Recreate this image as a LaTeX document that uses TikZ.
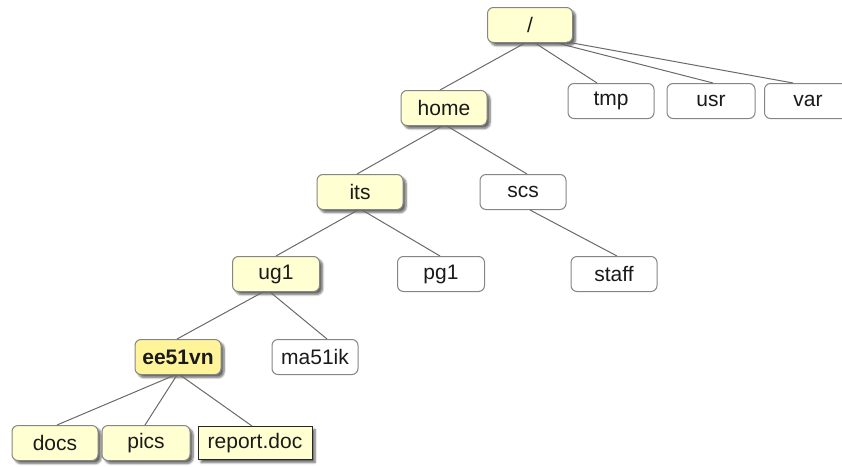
\documentclass[tikz,border=0pt]{standalone}
\usepackage{fontspec}
\setmainfont{Liberation Sans}
\usetikzlibrary{shadows.blur}
\definecolor{dirfill}{HTML}{FFFFD2}
\definecolor{curfill}{HTML}{FFF49A}
\definecolor{boxline}{HTML}{858585}
\definecolor{edgecol}{HTML}{6A6A6A}
\definecolor{txt}{HTML}{1A1A1A}
\tikzset{
  dirbox/.style={draw=boxline, line width=1pt, rounded corners=6pt,
    minimum width=86pt, minimum height=35pt, inner sep=0pt,
    font=\fontsize{21}{23}\selectfont, text=txt, fill=white},
  yel/.style={dirbox, fill=dirfill,
    blur shadow={shadow xshift=3pt, shadow yshift=-3pt, shadow blur steps=6, shadow opacity=60}},
  cur/.style={yel, fill=curfill, font=\fontsize{21}{23}\selectfont\bfseries},
  filebox/.style={dirbox, rounded corners=0pt, draw=black!85, fill=dirfill,
    blur shadow={shadow xshift=3pt, shadow yshift=-3pt, shadow blur steps=6, shadow opacity=60}},
  edge/.style={draw=edgecol, line width=1pt},
}
\begin{document}
\begin{tikzpicture}[x=1pt, y=-1pt]
\useasboundingbox (0,0) rectangle (842,466);
\clip (0,0) rectangle (842,466);
\node[yel, minimum width=85pt] (root) at (530,25) {/};
\node[dirbox] (tmp) at (611,101) {tmp};
\node[dirbox, minimum width=88pt] (usr) at (711,101) {usr};
\node[dirbox, minimum width=87pt] (var) at (808,101) {var};
\node[yel] (home) at (444,108) {home};
\node[yel] (its) at (360,192) {its};
\node[dirbox] (scs) at (523,192) {scs};
\node[yel, minimum width=87pt] (ug1) at (276,274) {ug1};
\node[dirbox, minimum width=87pt] (pg1) at (441,274) {pg1};
\node[dirbox] (staff) at (614,274) {staff};
\node[cur] (ee) at (178,357) {ee51vn};
\node[dirbox] (ma) at (315,357) {ma51ik};
\node[yel] (docs) at (55,443) {docs};
\node[yel, minimum width=88pt] (pics) at (146,443) {pics};
\node[filebox, minimum width=114pt, minimum height=33pt] (rep) at (255,443) {report.doc};

\draw[edge] ([xshift=-5pt]root.south) -- ([xshift=-4pt]home.north);
\draw[edge] ([xshift=5pt]root.south) -- ([xshift=-14pt]tmp.north);
\draw[edge] ([xshift=27pt]root.south) -- ([xshift=2pt]usr.north);
\draw[edge] ([xshift=37pt,yshift=1pt]root.south) -- ([xshift=-15pt]var.north);
\draw[edge] ([xshift=-2pt]home.south) -- ([xshift=-3pt]its.north);
\draw[edge] ([xshift=3pt]home.south) -- ([xshift=4pt]scs.north);
\draw[edge] ([xshift=-2pt]its.south) -- (ug1.north);
\draw[edge] ([xshift=2pt]its.south) -- ([xshift=-1pt]pg1.north);
\draw[edge] ([xshift=7pt]scs.south) -- ([xshift=3pt]staff.north);
\draw[edge] ([xshift=-13pt]ug1.south) -- ([xshift=-1pt]ee.north);
\draw[edge] ([xshift=-6pt]ug1.south) -- ([xshift=12pt]ma.north);
\draw[edge] ([xshift=-3pt]ee.south) -- ([xshift=2pt]docs.north);
\draw[edge] ([xshift=-1pt]ee.south) -- ([xshift=-1pt]pics.north);
\draw[edge] ([xshift=2pt]ee.south) -- ([xshift=-3pt]rep.north);
\end{tikzpicture}
\end{document}
